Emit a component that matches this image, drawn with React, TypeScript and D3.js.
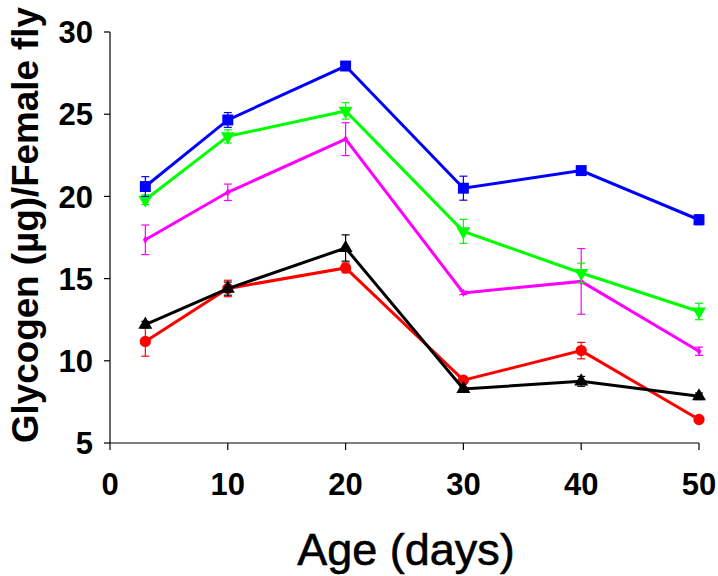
import React from "react";
import * as d3 from "d3";

const days = [3, 10, 20, 30, 40, 50];

const blueVals = [20.6, 24.65, 27.93, 20.5, 21.57, 18.58];
const blueErr = [0.6, 0.45, 0.2, 0.73, 0.25, 0.3];
const greenVals = [19.8, 23.65, 25.2, 17.87, 15.34, 13.0];
const greenErr = [0.3, 0.4, 0.5, 0.73, 0.6, 0.5];
const magentaVals = [17.36, 20.25, 23.48, 14.13, 14.83, 10.58];
const magentaErr = [0.9, 0.5, 1.0, 0.1, 2.0, 0.25];
const blackVals = [12.2, 14.39, 16.86, 8.29, 8.75, 7.84];
const blackErr = [0.2, 0.4, 0.8, 0.1, 0.3, 0.2];
const redVals = [11.18, 14.4, 15.65, 8.82, 10.62, 6.43];
const redErr = [0.9, 0.5, 0.3, 0.15, 0.5, 0.1];

const xTicks = [0, 10, 20, 30, 40, 50];
const yTicks = [5, 10, 15, 20, 25, 30];

type Series = { name: string; color: string; vals: number[]; err: number[]; marker: string; size: number };

const series: Series[] = [
  { name: "red", color: "#ff0000", vals: redVals, err: redErr, marker: "circle", size: 100 },
  { name: "black", color: "#000000", vals: blackVals, err: blackErr, marker: "up", size: 85 },
  { name: "magenta", color: "#ff00ff", vals: magentaVals, err: magentaErr, marker: "diamond", size: 20 },
  { name: "green", color: "#00ff00", vals: greenVals, err: greenErr, marker: "down", size: 85 },
  { name: "blue", color: "#0000ff", vals: blueVals, err: blueErr, marker: "square", size: 120 },
];

const W = 718;
const H = 576;
const x = d3.scaleLinear().domain([0, 50]).range([110, 699]);
const y = d3.scaleLinear().domain([5, 30]).range([443, 32]);

const symbolFor = (m: string, size: number) => {
  if (m === "circle") return d3.symbol(d3.symbolCircle, size)();
  if (m === "square") return d3.symbol(d3.symbolSquare, size)();
  if (m === "diamond") return d3.symbol(d3.symbolDiamond, size)();
  return d3.symbol(d3.symbolTriangle, size)();
};

export default function App() {
  const line = d3
    .line<number>()
    .x((_, i) => x(days[i]))
    .y((v) => y(v));
  const font = "'Liberation Sans', Arial, sans-serif";
  return (
    <svg width={W} height={H} style={{ position: "absolute", left: 0, top: 0, background: "#fff" }}>
      <rect width={W} height={H} fill="#fff" />
      {/* axes */}
      <line x1={110} x2={110} y1={y(30)} y2={y(5)} stroke="#000" strokeWidth={1.2} />
      <line x1={110} x2={699} y1={y(5)} y2={y(5)} stroke="#000" strokeWidth={1.2} />
      {yTicks.map((t) => (
        <g key={"y" + t}>
          <line x1={104} x2={110} y1={y(t)} y2={y(t)} stroke="#000" strokeWidth={1.2} />
          <text x={93} y={y(t)} dy="0.36em" textAnchor="end" fontFamily={font} fontWeight="bold" fontSize={31}>
            {t}
          </text>
        </g>
      ))}
      {xTicks.map((t) => (
        <g key={"x" + t}>
          <line x1={x(t)} x2={x(t)} y1={y(5)} y2={y(5) + 7} stroke="#000" strokeWidth={1.2} />
          <text x={x(t)} y={495} textAnchor="middle" fontFamily={font} fontWeight="bold" fontSize={31}>
            {t}
          </text>
        </g>
      ))}
      <text x={406} y={565} textAnchor="middle" fontFamily={font} fontSize={45} stroke="#000" strokeWidth={0.6}>
        Age (days)
      </text>
      <text
        transform={`translate(38,${225}) rotate(-90)`}
        textAnchor="middle"
        fontFamily={font}
        fontWeight="bold"
        fontSize={36}
        textLength={436}
        lengthAdjust="spacingAndGlyphs"
      >
        Glycogen (µg)/Female fly
      </text>
      {series.map((s) => (
        <g key={s.name}>
          <path d={line(s.vals) || ""} fill="none" stroke={s.color} strokeWidth={3} />
          {s.vals.map((v, i) => {
            const cx = x(days[i]);
            const hi = y(v + s.err[i]);
            const lo = y(v - s.err[i]);
            return (
              <g key={i} stroke={s.color} strokeWidth={1.2}>
                <line x1={cx} x2={cx} y1={hi} y2={lo} />
                <line x1={cx - 4} x2={cx + 4} y1={hi} y2={hi} />
                <line x1={cx - 4} x2={cx + 4} y1={lo} y2={lo} />
              </g>
            );
          })}
          {s.vals.map((v, i) => (
            <path
              key={"m" + i}
              d={symbolFor(s.marker, s.size) || ""}
              transform={`translate(${x(days[i])},${y(v)})${s.marker === "down" ? " rotate(180)" : ""}`}
              fill={s.color}
            />
          ))}
        </g>
      ))}
    </svg>
  );
}
